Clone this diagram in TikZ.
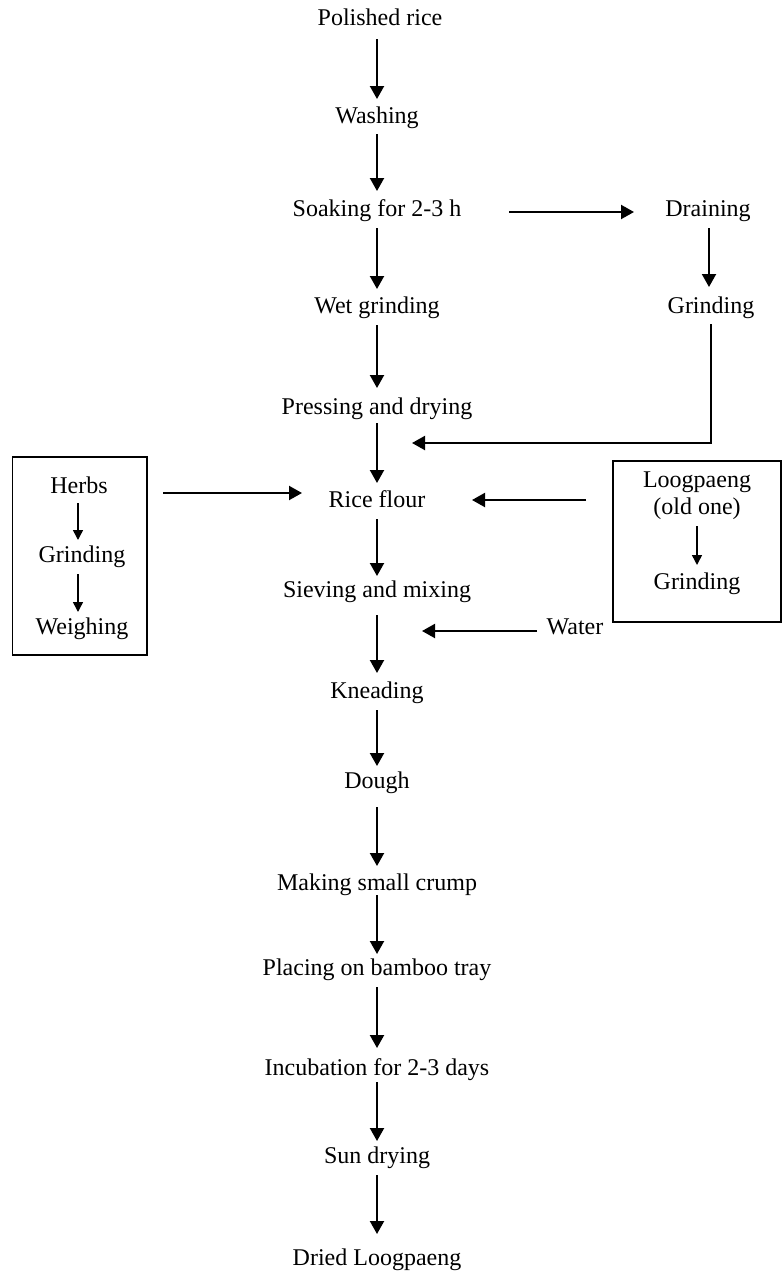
\documentclass[tikz,border=0pt]{standalone}
\usepackage{fontspec}
\setmainfont{Liberation Serif}
\usetikzlibrary{arrows.meta}
\begin{document}
\begin{tikzpicture}[x=1pt,y=-1pt,
  lbl/.style={font=\fontsize{24}{27}\selectfont, inner sep=0pt, text height=16pt, text depth=5pt},
  arr/.style={line width=2.1pt, -{Triangle[length=13pt,width=14pt]}},
  sarr/.style={line width=1.5pt, -{Triangle[length=10pt,width=10pt]}},
  frame/.style={draw, line width=1.3pt}]
\useasboundingbox (0,0) rectangle (782,1274);
% main column
\node[lbl] (n1) at (380,19.5) {Polished rice};
\node[lbl] (n2) at (377,117.5) {Washing};
\node[lbl] (n3) at (377,211) {Soaking for 2-3 h};
\node[lbl] (n4) at (377,308) {Wet grinding};
\node[lbl] (n5) at (377,409) {Pressing and drying};
\node[lbl] (n6) at (377,502) {Rice flour};
\node[lbl] (n7) at (377,592) {Sieving and mixing};
\node[lbl] (n8) at (377,693) {Kneading};
\node[lbl] (n9) at (377,782.5) {Dough};
\node[lbl] (n10) at (377,884.5) {Making small crump};
\node[lbl] (n11) at (377,969.5) {Placing on bamboo tray};
\node[lbl] (n12) at (377,1069.5) {Incubation for 2-3 days};
\node[lbl] (n13) at (377,1158) {Sun drying};
\node[lbl] (n14) at (377,1259.5) {Dried Loogpaeng};
% main arrows
\foreach \a/\ya/\yb in {n1/39/99, n2/134/191, n3/228/289, n4/325/388, n5/423/483, n6/519/576, n7/615/673, n8/710/766, n9/807/866, n10/895/954, n11/987/1048, n12/1082/1141, n13/1175/1234}{
  \coordinate (s\a) at (377,\ya);
  \coordinate (e\a) at (377,\yb);
  \draw[arr] (s\a) -- (e\a);
}
% right branch
\node[lbl] (dr) at (708,211) {Draining};
\node[lbl] (gr) at (711,308) {Grinding};
\coordinate (s3r) at (509,212);
\coordinate (e3r) at (634,212);
\draw[arr] (s3r) -- (e3r);
\coordinate (drs) at (709,228);
\coordinate (dre) at (709,287);
\draw[arr] (drs) -- (dre);
\coordinate (grs) at (711,324);
\coordinate (gre) at (412,443);
\draw[arr] (grs) |- (gre);
% left box
\node[lbl] (hb) at (79,487.5) {Herbs};
\node[lbl] (hg) at (82,557) {Grinding};
\node[lbl] (hw) at (82,629) {Weighing};
\draw[frame] (12.5,457) rectangle (147,655);
\coordinate (hbs1) at (78,503);
\coordinate (hbe1) at (78,540);
\draw[sarr] (hbs1) -- (hbe1);
\coordinate (hbs2) at (78,574);
\coordinate (hbe2) at (78,612);
\draw[sarr] (hbs2) -- (hbe2);
\coordinate (hbs) at (163,493);
\coordinate (hbe) at (302,493);
\draw[arr] (hbs) -- (hbe);
% right box
\node[lbl] (lg1) at (697,482) {Loogpaeng};
\node[lbl] (lg2) at (697,509) {(old one)};
\node[lbl] (lg3) at (697,584) {Grinding};
\draw[frame] (613,461) rectangle (781,622);
\coordinate (lgs1) at (697,526);
\coordinate (lge1) at (697,565);
\draw[sarr] (lgs1) -- (lge1);
\coordinate (lgs) at (586,500);
\coordinate (lge) at (472,500);
\draw[arr] (lgs) -- (lge);
% water
\node[lbl] (wt) at (575,629) {Water};
\coordinate (wts) at (537,631);
\coordinate (wte) at (422,631);
\draw[arr] (wts) -- (wte);
\end{tikzpicture}
\end{document}
